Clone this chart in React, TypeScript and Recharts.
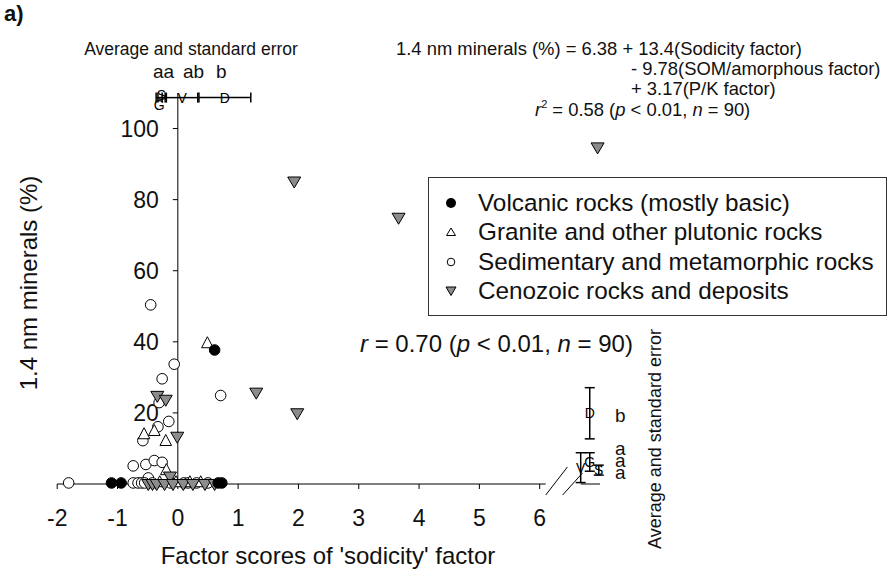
import {
  ScatterChart,
  Scatter,
  XAxis,
  YAxis,
  ErrorBar,
  ReferenceLine,
  ReferenceDot,
  Legend
} from "recharts"

const FONT = "'Liberation Sans', Arial, Helvetica, sans-serif"

const groupNames = [
  "Volcanic rocks (mostly basic)",
  "Granite and other plutonic rocks",
  "Sedimentary and metamorphic rocks",
  "Cenozoic rocks and deposits"
]

// individual soils: x = sodicity factor score, y = 1.4 nm minerals (%)
const volcanic = [
  { x: 0.61, y: 37.7 },
  { x: -1.1, y: 0.3 },
  { x: -0.94, y: 0.3 },
  { x: 0.67, y: 0.3 },
  { x: 0.73, y: 0.3 }
]

const granite = [
  { x: 0.49, y: 39.6 },
  { x: -0.39, y: 14.9 },
  { x: -0.56, y: 14.0 },
  { x: -0.2, y: 12.1 },
  { x: -0.19, y: 3.9 },
  { x: -0.3, y: 0.5 },
  { x: -0.03, y: 0.5 },
  { x: 0.2, y: 0.5 },
  { x: 0.38, y: 0.5 }
]

const sedimentary = [
  { x: -0.45, y: 50.4 },
  { x: -0.06, y: 33.7 },
  { x: -0.26, y: 29.6 },
  { x: -0.31, y: 22.9 },
  { x: 0.71, y: 24.9 },
  { x: -0.15, y: 17.6 },
  { x: -0.33, y: 16.1 },
  { x: -0.58, y: 12.2 },
  { x: -0.74, y: 5.1 },
  { x: -0.53, y: 5.5 },
  { x: -0.39, y: 6.6 },
  { x: -0.26, y: 6.1 },
  { x: -0.49, y: 1.7 },
  { x: -1.81, y: 0.3 },
  { x: -0.74, y: 0.3 },
  { x: -0.66, y: 0.3 },
  { x: -0.6, y: 0.3 },
  { x: -0.55, y: 0.3 },
  { x: -0.42, y: 0.3 },
  { x: -0.12, y: 0.3 },
  { x: 0.1, y: 0.3 },
  { x: 0.17, y: 0.3 },
  { x: 0.31, y: 0.3 },
  { x: 0.5, y: 0.3 }
]

const cenozoic = [
  { x: 1.93, y: 85.1 },
  { x: 3.66, y: 74.9 },
  { x: 6.96, y: 94.7 },
  { x: -0.34, y: 24.8 },
  { x: -0.2, y: 23.7 },
  { x: 1.3, y: 25.7 },
  { x: 1.98, y: 19.9 },
  { x: -0.01, y: 13.3 },
  { x: -0.13, y: 2.1 },
  { x: -0.49, y: 0 },
  { x: -0.42, y: 0 },
  { x: -0.35, y: 0 },
  { x: -0.22, y: 0 },
  { x: -0.08, y: 0 },
  { x: 0.09, y: 0 },
  { x: 0.25, y: 0 },
  { x: 0.45, y: 0 },
  { x: 0.61, y: 0 }
]

// group means and standard errors (V volcanic, G granite, S sedimentary, D deposits)
const meanRowY = 108.7
const xMeans = [
  { g: "S", x: -0.27, se: 0.06 },
  { g: "G", x: -0.31, se: 0.05 },
  { g: "V", x: 0.07, se: 0.26 },
  { g: "D", x: 0.78, se: 0.43 }
]
const yMeans = [
  { g: "V", x: 6.68, y: 4.6, se: 4.2 },
  { g: "G", x: 6.83, y: 6.2, se: 2.6 },
  { g: "S", x: 6.98, y: 3.9, se: 1.4 },
  { g: "D", x: 6.83, y: 19.9, se: 7.2 }
]

const xTicks = [-2, -1, 0, 1, 2, 3, 4, 5, 6]
const yTicks = [20, 40, 60, 80, 100]

const GREY = "#8c8c8c"

const Dot = (p: any) => <circle cx={p.cx} cy={p.cy} r={5.3} fill="#000" stroke="#000" />
const Ring = (p: any) => <circle cx={p.cx} cy={p.cy} r={5.3} fill="#fff" stroke="#000" />
const TriUp = (p: any) => (
  <path
    d={`M${p.cx},${p.cy - 6.5} L${p.cx + 5.8},${p.cy + 4.5} L${p.cx - 5.8},${p.cy + 4.5} Z`}
    fill="#fff"
    stroke="#000"
  />
)
const TriDown = (p: any) => (
  <path
    d={`M${p.cx - 6.5},${p.cy - 4.5} L${p.cx + 6.5},${p.cy - 4.5} L${p.cx},${p.cy + 6.5} Z`}
    fill={GREY}
    stroke="#000"
  />
)

const letterShift: Record<string, number> = { S: -3, G: 7 }
const TopLetter = (p: any) => (
  <text
    x={p.cx}
    y={p.cy + (letterShift[p.payload.g] || 0)}
    textAnchor="middle"
    dominantBaseline="central"
    fontSize={14}
    fontFamily={FONT}
  >
    {p.payload.g}
  </text>
)
const SideLetter = (p: any) => (
  <text x={p.cx} y={p.cy} textAnchor="middle" dominantBaseline="central" fontSize={14} fontFamily={FONT}>
    {p.payload.g}
  </text>
)

function LegendBox() {
  const icons = [
    <circle cx={22} cy={12} r={5} fill="#000" />,
    <path d="M22,8 L26.5,15.5 L17.5,15.5 Z" fill="#fff" stroke="#000" />,
    <circle cx={22} cy={12} r={3.8} fill="#fff" stroke="#000" />,
    <path d="M17,8 L27,8 L22,16.5 Z" fill={GREY} stroke="#000" />
  ]
  return (
    <div
      style={{
        boxSizing: "border-box",
        width: 459,
        height: 139,
        border: "1px solid #333",
        background: "#fff",
        paddingTop: 10,
        fontFamily: FONT,
        color: "#111"
      }}
    >
      {groupNames.map((name, i) => (
        <div key={name} style={{ display: "flex", alignItems: "center", height: 29.5 }}>
          <svg width={49} height={24}>{icons[i]}</svg>
          <span style={{ fontSize: 24.3, lineHeight: "24px" }}>{name}</span>
        </div>
      ))}
    </div>
  )
}

export default function App() {
  return (
    <div style={{ position: "absolute", left: 0, top: 0, width: 893, height: 572, background: "#fff" }}>
      <ScatterChart
        width={893}
        height={572}
        margin={{ top: 93, right: 293, bottom: 58, left: 56 }}
        style={{ fontFamily: FONT }}
      >
        <XAxis
          type="number"
          dataKey="x"
          domain={[-2.02, 7]}
          ticks={xTicks}
          axisLine={false}
          tickLine={{ stroke: "#000" }}
          tickSize={5}
          tickMargin={21}
          height={30}
          tick={{ fontSize: 23, fill: "#111" }}
          label={{
            value: "Factor scores of 'sodicity' factor",
            position: "bottom",
            offset: 33,
            fontSize: 24,
            fill: "#111"
          }}
        />
        <YAxis type="number" dataKey="y" domain={[0, 110]} hide />

        {/* axes drawn through x = 0 and y = 0, with a break before the averages */}
        <ReferenceLine x={0} stroke="#000" />
        <ReferenceLine segment={[{ x: -2, y: 0 }, { x: 6.1, y: 0 }]} stroke="#000" />
        <ReferenceLine segment={[{ x: 6.68, y: 0 }, { x: 7, y: 0 }]} stroke="#000" />
        <ReferenceLine segment={[{ x: 6.1, y: -3.1 }, { x: 6.46, y: 4.8 }]} stroke="#000" ifOverflow="visible" />
        <ReferenceLine segment={[{ x: 6.38, y: -3.1 }, { x: 6.71, y: 3.1 }]} stroke="#000" ifOverflow="visible" />
        {yTicks.map((t) => (
          <ReferenceDot
            key={t}
            x={0}
            y={t}
            r={0}
            shape={(p: any) => (
              <g>
                <line x1={p.cx - 5} x2={p.cx} y1={p.cy} y2={p.cy} stroke="#000" />
                <text x={p.cx - 19} y={p.cy} textAnchor="end" dominantBaseline="central" fontSize={23} fill="#111" fontFamily={FONT}>
                  {t}
                </text>
              </g>
            )}
          />
        ))}

        <Scatter name={groupNames[2]} data={sedimentary} shape={Ring} isAnimationActive={false} />
        <Scatter name={groupNames[1]} data={granite} shape={TriUp} isAnimationActive={false} />
        <Scatter name={groupNames[3]} data={cenozoic} shape={TriDown} isAnimationActive={false} />
        <Scatter name={groupNames[0]} data={volcanic} shape={Dot} isAnimationActive={false} />

        <Scatter
          data={xMeans.map((m) => ({ ...m, y: meanRowY }))}
          shape={TopLetter}
          legendType="none"
          isAnimationActive={false}
        >
          <ErrorBar dataKey="se" direction="x" width={5} stroke="#000" isAnimationActive={false} />
        </Scatter>
        <Scatter data={yMeans} shape={SideLetter} legendType="none" isAnimationActive={false}>
          <ErrorBar dataKey="se" direction="y" width={5} stroke="#000" isAnimationActive={false} />
        </Scatter>

        <Legend
          layout="vertical"
          align="center"
          verticalAlign="middle"
          wrapperStyle={{ left: 428, top: 177, width: 459, height: 139 }}
          content={() => <LegendBox />}
        />

        {/* annotations */}
        <text x={4} y={21} fontSize={22} fontWeight="bold" fill="#111" fontFamily={FONT}>a)</text>
        <text x={191} y={55} fontSize={17.5} textAnchor="middle" fill="#111" fontFamily={FONT}>
          Average and standard error
        </text>
        <text x={153} y={78} fontSize={19} fill="#111" fontFamily={FONT}>aa</text>
        <text x={183} y={78} fontSize={19} fill="#111" fontFamily={FONT}>ab</text>
        <text x={216} y={78} fontSize={19} fill="#111" fontFamily={FONT}>b</text>

        <g fontSize={18.4} fill="#111" fontFamily={FONT}>
          <text x={396} y={55}>1.4 nm minerals (%) = 6.38 + 13.4(Sodicity factor)</text>
          <text x={631} y={75}>- 9.78(SOM/amorphous factor)</text>
          <text x={631} y={95}>+ 3.17(P/K factor)</text>
          <text x={535} y={116}>
            <tspan fontStyle="italic">r</tspan>
            <tspan dy={-8} fontSize={11}>2</tspan>
            <tspan dy={8}> = 0.58 (</tspan>
            <tspan fontStyle="italic">p</tspan>
            <tspan> &lt; 0.01, </tspan>
            <tspan fontStyle="italic">n</tspan>
            <tspan> = 90)</tspan>
          </text>
        </g>

        <text x={360} y={352} fontSize={24} fill="#111" fontFamily={FONT}>
          <tspan fontStyle="italic">r</tspan>
          <tspan> = 0.70 (</tspan>
          <tspan fontStyle="italic">p</tspan>
          <tspan> &lt; 0.01, </tspan>
          <tspan fontStyle="italic">n</tspan>
          <tspan> = 90)</tspan>
        </text>

        <g fontSize={19} fill="#111" fontFamily={FONT}>
          <text x={615} y={422}>b</text>
          <text x={615} y={455}>a</text>
          <text x={615} y={467}>a</text>
          <text x={615} y={479}>a</text>
        </g>
        <text
          x={661}
          y={439}
          fontSize={18}
          textAnchor="middle"
          fill="#111"
          fontFamily={FONT}
          transform="rotate(-90 661 439)"
        >
          Average and standard error
        </text>
        <text
          x={37}
          y={283}
          fontSize={24}
          textAnchor="middle"
          fill="#111"
          fontFamily={FONT}
          transform="rotate(-90 37 283)"
        >
          1.4 nm minerals (%)
        </text>
      </ScatterChart>
    </div>
  )
}
